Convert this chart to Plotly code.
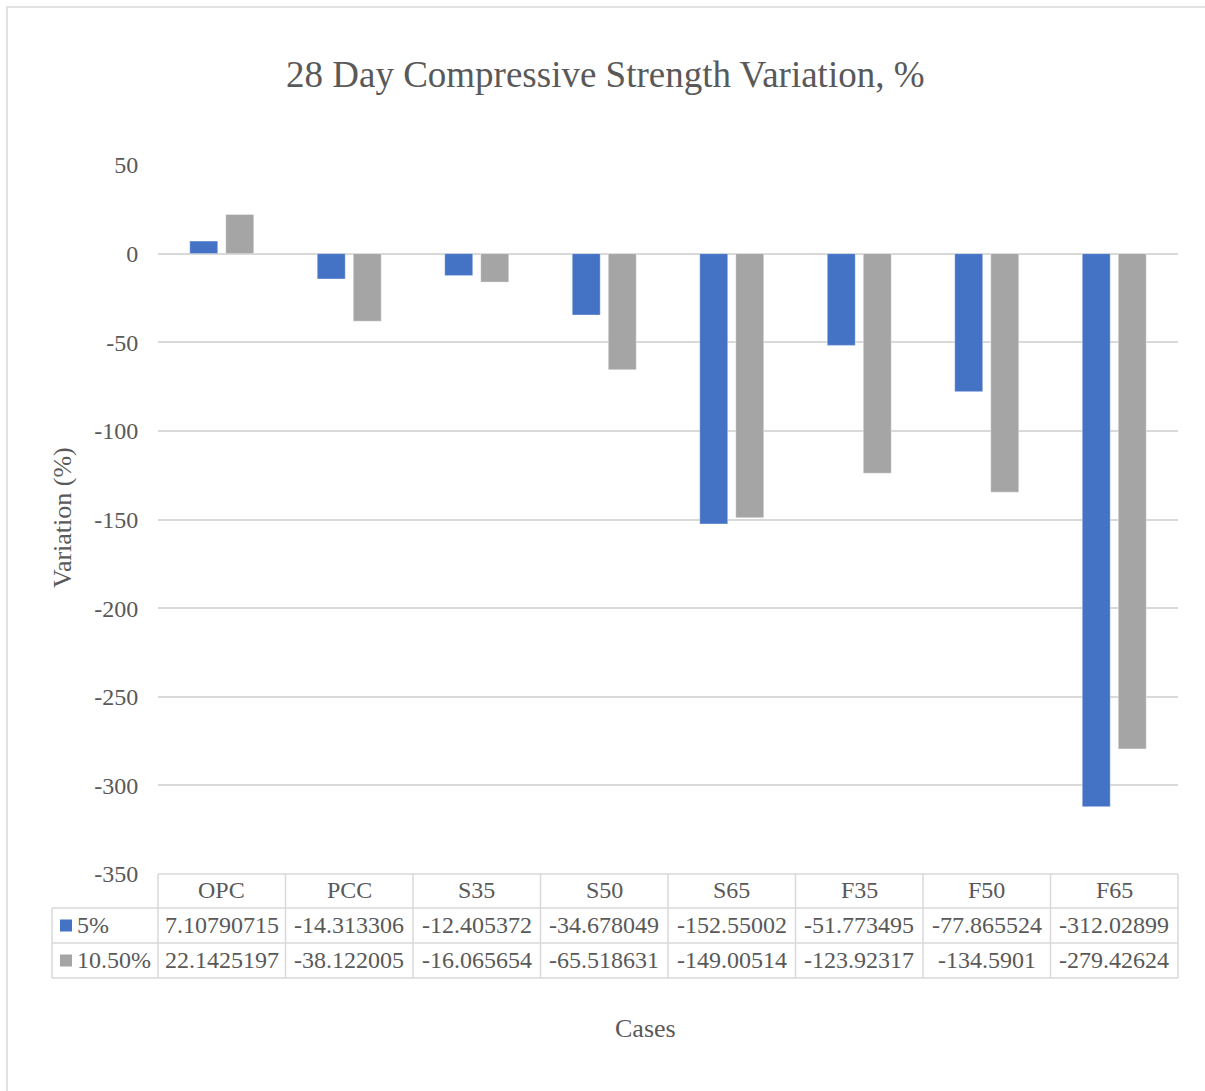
import plotly.graph_objects as go

categories = ["OPC", "PCC", "S35", "S50", "S65", "F35", "F50", "F65"]
series_names = ["5%", "10.50%"]
values_5 = [7.10790715, -14.313306, -12.405372, -34.678049, -152.55002, -51.773495, -77.865524, -312.02899]
values_10_5 = [22.1425197, -38.122005, -16.065654, -65.518631, -149.00514, -123.92317, -134.5901, -279.42624]
y_ticks = [50, 0, -50, -100, -150, -200, -250, -300, -350]

colors = ["#4472C4", "#A5A5A5"]
FONT = "Liberation Serif"
TXT = "#595959"
GRID = "#D9D9D9"

W, H = 1205, 1091
L, R, T, B = 158, 1178, 165, 874

def px(x):
    return (x - L) / (R - L)

def py(y):
    return (B - y) / (B - T)

fig = go.Figure()
for name, vals, col in zip(series_names, [values_5, values_10_5], colors):
    fig.add_trace(go.Bar(x=categories, y=vals, name=name, marker_color=col,
                         marker_line=dict(width=0.8, color="rgba(255,255,255,0.5)")))

shapes = []
annotations = []
line = dict(color=GRID, width=1.5)
# outer chart border
shapes.append(dict(type="rect", xref="paper", yref="paper", x0=px(7), x1=px(1215), y0=py(7), y1=py(1100),
                   line=dict(color=GRID, width=1.5)))
# table
row_y = [874, 908, 943, 978]
ncat = len(categories)
colw = (R - L) / ncat
shapes.append(dict(type="line", xref="paper", yref="paper", x0=px(L), x1=px(R), y0=py(row_y[0]), y1=py(row_y[0]), line=line))
for yy in row_y[1:]:
    shapes.append(dict(type="line", xref="paper", yref="paper", x0=px(52), x1=px(R), y0=py(yy), y1=py(yy), line=line))
shapes.append(dict(type="line", xref="paper", yref="paper", x0=px(52), x1=px(52), y0=py(row_y[1]), y1=py(row_y[3]), line=line))
for i in range(ncat + 1):
    xx = L + i * colw
    shapes.append(dict(type="line", xref="paper", yref="paper", x0=px(xx), x1=px(xx), y0=py(row_y[0]), y1=py(row_y[3]), line=line))

tfont = dict(family=FONT, size=24, color=TXT)
for i, c in enumerate(categories):
    annotations.append(dict(text=c, x=i, xref="x", y=py((row_y[0] + row_y[1]) / 2 - 1.5), yref="paper",
                            showarrow=False, font=tfont, xanchor="center", yanchor="middle"))
for r, (name, vals, col) in enumerate(zip(series_names, [values_5, values_10_5], colors)):
    yc = (row_y[r + 1] + row_y[r + 2]) / 2
    for i, v in enumerate(vals):
        annotations.append(dict(text=str(v), x=i, xref="x", y=py(yc - 1), yref="paper",
                                showarrow=False, font=tfont, xanchor="center", yanchor="middle"))
    shapes.append(dict(type="rect", xref="paper", yref="paper", x0=px(60), x1=px(72),
                       y0=py(yc - 6), y1=py(yc + 6), fillcolor=col, line=dict(width=0)))
    annotations.append(dict(text=name, x=px(75), xref="paper", y=py(yc - 1), yref="paper",
                            showarrow=False, font=tfont, xanchor="left", yanchor="middle"))

annotations.append(dict(text="28 Day Compressive Strength Variation, %", x=px(605), xref="paper", y=py(75), yref="paper",
                        showarrow=False, font=dict(family=FONT, size=37, color=TXT), xanchor="center", yanchor="middle"))
annotations.append(dict(text="Cases", x=px(645), xref="paper", y=py(1028), yref="paper",
                        showarrow=False, font=dict(family=FONT, size=26, color=TXT), xanchor="center", yanchor="middle"))
annotations.append(dict(text="Variation (%)", x=px(62), xref="paper", y=py(518), yref="paper", textangle=-90,
                        showarrow=False, font=dict(family=FONT, size=26, color=TXT), xanchor="center", yanchor="middle"))

fig.update_layout(
    width=W, height=H,
    margin=dict(l=L, r=W - R, t=T, b=H - B, pad=0),
    paper_bgcolor="white", plot_bgcolor="white",
    barmode="group", bargap=0.435, bargroupgap=0.222,
    showlegend=False,
    shapes=shapes, annotations=annotations,
    xaxis=dict(showticklabels=False, showgrid=False, zeroline=False, showline=False, ticks=""),
    yaxis=dict(range=[-350, 50], tickvals=y_ticks, ticktext=[str(t) for t in y_ticks],
               showgrid=True, gridcolor=GRID, gridwidth=1.5, zeroline=True, zerolinecolor=GRID, zerolinewidth=1.5,
               showline=False, ticks="outside", ticklen=14, tickcolor="rgba(0,0,0,0)",
               tickfont=dict(family=FONT, size=24, color=TXT)),
)

fig.write_html("out.html", config={"displayModeBar": False},
               post_script="document.body.style.margin='0';document.body.style.padding='0';")
